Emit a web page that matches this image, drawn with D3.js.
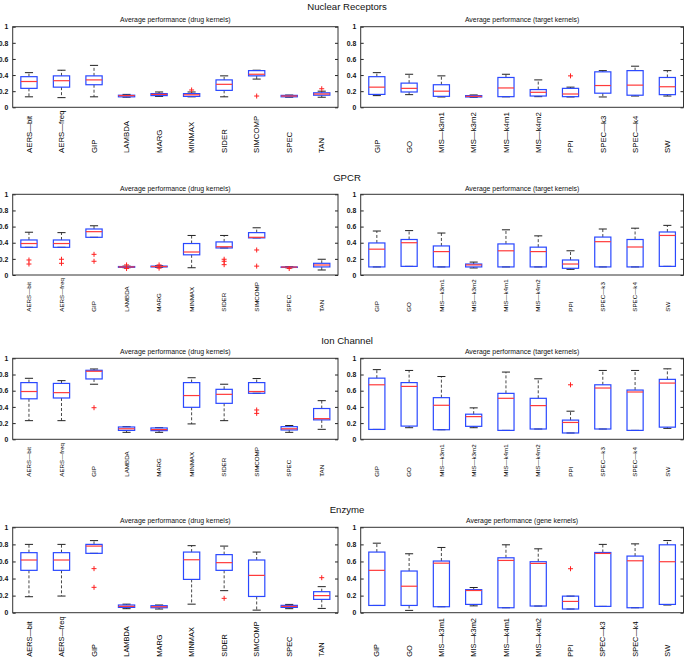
<!DOCTYPE html>
<html>
<head>
<meta charset="utf-8">
<script src="https://cdn.jsdelivr.net/npm/d3@7"></script>
<style>
  html, body { margin: 0; padding: 0; background: #fff; }
  svg { display: block; font-family: "Liberation Sans", Arial, Helvetica, sans-serif; }
</style>
</head>
<body>
<svg id="chart" width="685" height="659"></svg>
<script>
// ---------------- DATA ----------------
const sectionTitles = ["Nuclear Receptors", "GPCR", "Ion Channel", "Enzyme"];
const drugKernels = ["AERS—bit", "AERS—freq", "GIP", "LAMBDA", "MARG", "MINMAX", "SIDER", "SIMCOMP", "SPEC", "TAN"];
const targetKernels = ["GIP", "GO", "MIS—k3m1", "MIS—k3m2", "MIS—k4m1", "MIS—k4m2", "PPI", "SPEC—k3", "SPEC—k4", "SW"];
const leftTitles = ["Average performance (drug kernels)", "Average performance (drug kernels)", "Average performance (drug kernels)", "Average performance (drug kernels)"];
const rightTitles = ["Average performance (target kernels)", "Average performance (target kernels)", "Average performance (target kernels)", "Average performance (gene kernels)"];
const yTicks = [0, 0.2, 0.4, 0.6, 0.8, 1];
const yTickLabels = ["0", "0.2", "0.4", "0.6", "0.8", "1"];

// each entry: [lower whisker, Q1, median, Q3, upper whisker]
const nrDrug = [
  [0.13, 0.235, 0.32, 0.38, 0.43],
  [0.12, 0.25, 0.33, 0.39, 0.46],
  [0.13, 0.28, 0.34, 0.39, 0.52],
  [0.125, 0.13, 0.145, 0.15, 0.16],
  [0.135, 0.145, 0.16, 0.17, 0.19],
  [0.13, 0.135, 0.155, 0.17, 0.19],
  [0.13, 0.21, 0.285, 0.34, 0.39],
  [0.35, 0.39, 0.41, 0.455, 0.46],
  [0.125, 0.13, 0.14, 0.148, 0.152],
  [0.125, 0.15, 0.165, 0.18, 0.2]
];
const nrDrugOut = [[], [], [], [], [], [0.215], [], [0.14], [], [0.23]];
const nrTarget = [
  [0.145, 0.16, 0.25, 0.38, 0.43],
  [0.157, 0.19, 0.235, 0.30, 0.41],
  [0.128, 0.136, 0.2, 0.28, 0.39],
  [0.124, 0.128, 0.136, 0.145, 0.153],
  [0.13, 0.132, 0.24, 0.37, 0.41],
  [0.132, 0.14, 0.186, 0.22, 0.34],
  [0.128, 0.132, 0.165, 0.235, 0.25],
  [0.128, 0.175, 0.27, 0.44, 0.455],
  [0.14, 0.15, 0.275, 0.455, 0.51],
  [0.14, 0.157, 0.255, 0.37, 0.455]
];
const nrTargetOut = [[], [], [], [], [], [], [0.39], [], [], []];

const gpcrDrug = [
  [0.343, 0.343, 0.39, 0.434, 0.53],
  [0.343, 0.343, 0.39, 0.434, 0.525],
  [0.467, 0.467, 0.537, 0.57, 0.61],
  [0.09, 0.095, 0.1, 0.105, 0.11],
  [0.095, 0.1, 0.105, 0.11, 0.115],
  [0.09, 0.25, 0.285, 0.39, 0.49],
  [0.335, 0.335, 0.35, 0.41, 0.49],
  [0.46, 0.46, 0.467, 0.525, 0.585],
  [0.09, 0.095, 0.098, 0.1, 0.105],
  [0.062, 0.1, 0.124, 0.145, 0.195]
];
const gpcrDrugOut = [[0.186, 0.136], [0.195, 0.145], [0.256, 0.17], [0.125, 0.08], [0.125, 0.085], [], [0.195, 0.17, 0.128], [0.31, 0.11], [0.08], []];
const gpcrTarget = [
  [0.1, 0.1, 0.32, 0.397, 0.545],
  [0.107, 0.107, 0.4, 0.44, 0.55],
  [0.1, 0.1, 0.29, 0.36, 0.52],
  [0.087, 0.1, 0.125, 0.136, 0.16],
  [0.1, 0.1, 0.3, 0.385, 0.56],
  [0.1, 0.1, 0.29, 0.345, 0.485],
  [0.07, 0.083, 0.136, 0.186, 0.3],
  [0.1, 0.1, 0.413, 0.47, 0.57],
  [0.1, 0.1, 0.347, 0.44, 0.58],
  [0.107, 0.107, 0.49, 0.533, 0.615]
];
const gpcrTargetOut = [[], [], [], [], [], [], [], [], [], []];

const icDrug = [
  [0.23, 0.5, 0.59, 0.7, 0.753],
  [0.23, 0.51, 0.576, 0.69, 0.724],
  [0.68, 0.745, 0.84, 0.852, 0.868],
  [0.086, 0.11, 0.13, 0.152, 0.156],
  [0.086, 0.107, 0.12, 0.14, 0.144],
  [0.19, 0.395, 0.54, 0.7, 0.76],
  [0.23, 0.444, 0.555, 0.617, 0.68],
  [0.568, 0.568, 0.59, 0.7, 0.75],
  [0.086, 0.115, 0.13, 0.156, 0.17],
  [0.123, 0.24, 0.255, 0.38, 0.477]
];
const icDrugOut = [[], [], [0.39], [], [], [], [], [0.362, 0.32], [], []];
const icTarget = [
  [0.122, 0.122, 0.673, 0.755, 0.86],
  [0.143, 0.163, 0.653, 0.7, 0.85],
  [0.118, 0.118, 0.42, 0.514, 0.775],
  [0.143, 0.16, 0.28, 0.31, 0.388],
  [0.11, 0.11, 0.506, 0.567, 0.83],
  [0.127, 0.127, 0.416, 0.506, 0.747],
  [0.078, 0.078, 0.208, 0.237, 0.347],
  [0.127, 0.127, 0.633, 0.673, 0.85],
  [0.11, 0.11, 0.584, 0.608, 0.85],
  [0.135, 0.15, 0.694, 0.74, 0.87]
];
const icTargetOut = [[], [], [], [], [], [], [0.673], [], [], []];

const enzDrug = [
  [0.187, 0.496, 0.617, 0.703, 0.8],
  [0.195, 0.496, 0.617, 0.703, 0.8],
  [0.695, 0.695, 0.78, 0.8, 0.844],
  [0.047, 0.062, 0.074, 0.09, 0.1],
  [0.043, 0.058, 0.07, 0.082, 0.09],
  [0.1, 0.39, 0.62, 0.71, 0.785],
  [0.258, 0.496, 0.586, 0.68, 0.78],
  [0.03, 0.19, 0.437, 0.617, 0.71],
  [0.047, 0.062, 0.074, 0.086, 0.097],
  [0.05, 0.156, 0.2, 0.246, 0.305]
];
const enzDrugOut = [[], [], [0.516, 0.297], [], [], [], [0.168], [], [], [0.41]];
const enzGene = [
  [0.085, 0.085, 0.496, 0.71, 0.814],
  [0.027, 0.085, 0.31, 0.488, 0.69],
  [0.07, 0.07, 0.58, 0.605, 0.764],
  [0.08, 0.097, 0.26, 0.27, 0.295],
  [0.058, 0.058, 0.612, 0.643, 0.795],
  [0.078, 0.078, 0.577, 0.597, 0.748],
  [0.043, 0.043, 0.132, 0.194, 0.194],
  [0.074, 0.074, 0.694, 0.705, 0.8],
  [0.058, 0.058, 0.608, 0.663, 0.806],
  [0.09, 0.097, 0.597, 0.795, 0.845]
];
const enzGeneOut = [[], [], [], [], [], [], [0.515], [], [], []];

// ---------------- LAYOUT ----------------
const rows = [
  { top: 26.7, bottom: 107.3, titleY: 9.5, subY: 22, labFont: 7.8, labY: 153, left: [drugKernels, nrDrug, nrDrugOut], right: [targetKernels, nrTarget, nrTargetOut] },
  { top: 194.3, bottom: 275, titleY: 180.5, subY: 191, labFont: 6.2, labY: 311.7, left: [drugKernels, gpcrDrug, gpcrDrugOut], right: [targetKernels, gpcrTarget, gpcrTargetOut] },
  { top: 358.3, bottom: 439.3, titleY: 344, subY: 354, labFont: 6.2, labY: 476.7, left: [drugKernels, icDrug, icDrugOut], right: [targetKernels, icTarget, icTargetOut] },
  { top: 527.3, bottom: 612.7, titleY: 513, subY: 523, labFont: 7.4, labY: 656.7, left: [drugKernels, enzDrug, enzDrugOut], right: [targetKernels, enzGene, enzGeneOut] }
];
const cols = [{ x0: 12.7, x1: 338 }, { x0: 360.7, x1: 683.5 }];

const svg = d3.select("#chart");
const BOX = "#2a48ff", MED = "#ff3a3a", WH = "#333";

rows.forEach((row, ri) => {
  svg.append("text")
    .attr("x", 347).attr("y", row.titleY)
    .attr("text-anchor", "middle")
    .attr("font-size", 9.6).attr("fill", "#111")
    .text(sectionTitles[ri]);

  [row.left, row.right].forEach((panel, ci) => {
    const [cats, stats, outs] = panel;
    const c = cols[ci];
    const x = d3.scaleBand().domain(cats).range([c.x0, c.x1]).padding(0);
    const y = d3.scaleLinear().domain([0, 1]).range([row.bottom, row.top]);
    const g = svg.append("g");
    const bw = x.bandwidth() * 0.5;

    g.append("text")
      .attr("x", (c.x0 + c.x1) / 2).attr("y", row.subY)
      .attr("text-anchor", "middle").attr("font-size", 6.9).attr("fill", "#111")
      .text(ci === 0 ? leftTitles[ri] : rightTitles[ri]);

    const axL = d3.axisLeft(y).tickValues(yTicks).tickFormat((d, i) => yTickLabels[i]).tickSizeInner(-3).tickSizeOuter(0).tickPadding(4.5);
    const gl = g.append("g").attr("transform", `translate(${c.x0},0)`).call(axL);
    gl.select(".domain").remove();
    gl.selectAll("line").attr("stroke", "#222");
    gl.selectAll("text").attr("font-size", 6.8).attr("font-family", "Liberation Sans, Arial, sans-serif").attr("fill", "#111").attr("font-weight", "bold");
    const axR = d3.axisRight(y).tickValues(yTicks).tickFormat("").tickSizeInner(-3).tickSizeOuter(0);
    const gr = g.append("g").attr("transform", `translate(${c.x1},0)`).call(axR);
    gr.select(".domain").remove();
    gr.selectAll("line").attr("stroke", "#222");

    g.append("rect")
      .attr("x", c.x0).attr("y", row.top)
      .attr("width", c.x1 - c.x0).attr("height", row.bottom - row.top)
      .attr("fill", "none").attr("stroke", "#333").attr("stroke-width", 1);

    stats.forEach((s, i) => {
      const cx = x(cats[i]) + x.bandwidth() / 2;
      const [lo, q1, md, q3, hi] = s;
      g.append("line").attr("x1", cx).attr("x2", cx).attr("y1", y(q3)).attr("y2", y(hi))
        .attr("stroke", WH).attr("stroke-width", 0.9).attr("stroke-dasharray", "3,2");
      g.append("line").attr("x1", cx).attr("x2", cx).attr("y1", y(q1)).attr("y2", y(lo))
        .attr("stroke", WH).attr("stroke-width", 0.9).attr("stroke-dasharray", "3,2");
      [lo, hi].forEach(v => {
        g.append("line").attr("x1", cx - bw / 4).attr("x2", cx + bw / 4).attr("y1", y(v)).attr("y2", y(v))
          .attr("stroke", "#222").attr("stroke-width", 1);
      });
      g.append("rect").attr("x", cx - bw / 2).attr("y", y(q3))
        .attr("width", bw).attr("height", Math.max(0.5, y(q1) - y(q3)))
        .attr("fill", "none").attr("stroke", BOX).attr("stroke-width", 1.2);
      g.append("line").attr("x1", cx - bw / 2).attr("x2", cx + bw / 2).attr("y1", y(md)).attr("y2", y(md))
        .attr("stroke", MED).attr("stroke-width", 1.2);
      outs[i].forEach(v => {
        g.append("path").attr("d", `M${cx - 2.5},${y(v)}h5M${cx},${y(v) - 2.5}v5`)
          .attr("stroke", "#ff2020").attr("stroke-width", 1).attr("fill", "none");
      });
      g.append("text")
        .attr("transform", `translate(${cx},${row.labY}) rotate(-90)`)
        .attr("dy", "0.35em").attr("text-anchor", "start")
        .attr("font-size", row.labFont).attr("fill", "#000")
        .text(cats[i]);
    });
  });
});
</script>
</body>
</html>
